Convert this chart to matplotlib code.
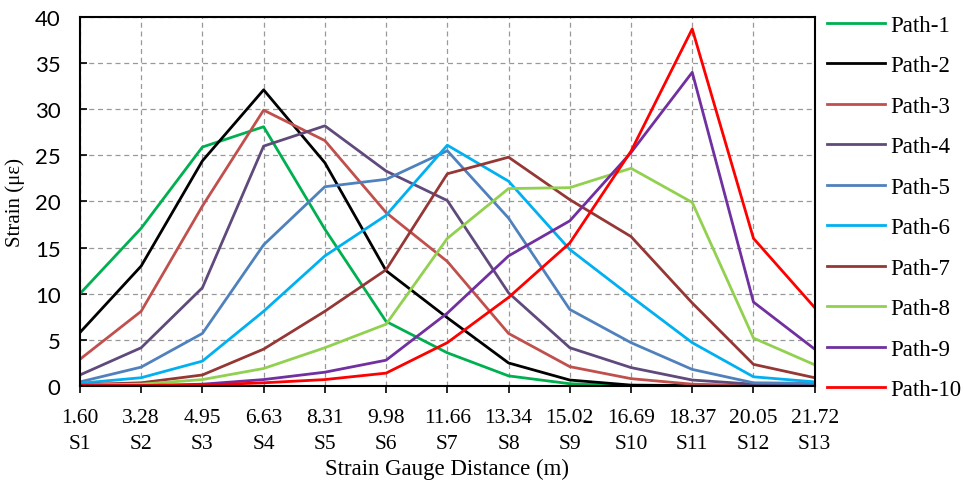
import matplotlib
matplotlib.use("Agg")
import matplotlib.pyplot as plt
import numpy as np

plt.rcParams["font.family"] = ["Liberation Serif", "DejaVu Serif"]

distances = ["1.60", "3.28", "4.95", "6.63", "8.31", "9.98", "11.66",
             "13.34", "15.02", "16.69", "18.37", "20.05", "21.72"]
gauges = ["S1", "S2", "S3", "S4", "S5", "S6", "S7",
          "S8", "S9", "S10", "S11", "S12", "S13"]

# strain per path at gauges S1..S13
path_1 = [10.0, 17.1, 25.9, 28.1, 17.0, 7.0, 3.6, 1.1, 0.25, 0.05, 0.0, 0.0, 0.0]
path_2 = [5.8, 13.0, 24.4, 32.1, 24.2, 12.5, 7.4, 2.5, 0.65, 0.1, 0.05, 0.0, 0.0]
path_3 = [2.9, 8.1, 19.5, 29.9, 26.6, 18.8, 13.5, 5.7, 2.1, 0.8, 0.2, 0.05, 0.05]
path_4 = [1.2, 4.15, 10.65, 26.0, 28.2, 23.3, 20.1, 10.1, 4.15, 2.0, 0.65, 0.2, 0.2]
path_5 = [0.45, 2.05, 5.7, 15.3, 21.6, 22.4, 25.5, 18.2, 8.3, 4.7, 1.8, 0.35, 0.3]
path_6 = [0.3, 0.9, 2.7, 8.1, 14.1, 18.5, 26.1, 22.2, 14.8, 9.7, 4.7, 1.0, 0.45]
path_7 = [0.15, 0.35, 1.2, 4.0, 8.1, 12.6, 23.0, 24.8, 20.2, 16.2, 9.0, 2.35, 0.9]
path_8 = [0.1, 0.2, 0.7, 1.9, 4.15, 6.7, 16.0, 21.4, 21.5, 23.6, 19.9, 5.2, 2.3]
path_9 = [0.05, 0.05, 0.2, 0.7, 1.5, 2.8, 7.9, 14.1, 17.9, 25.3, 34.0, 9.1, 4.0]
path_10 = [0.05, 0.05, 0.1, 0.35, 0.7, 1.4, 4.7, 9.6, 15.5, 25.45, 38.7, 16.0, 8.5]

series = [path_1, path_2, path_3, path_4, path_5,
          path_6, path_7, path_8, path_9, path_10]
labels = ["Path-%d" % (i + 1) for i in range(10)]
colors = ["#00B050", "#000000", "#C0504D", "#604A7B", "#4F81BD",
          "#00B0F0", "#953735", "#92D050", "#7030A0", "#FF0000"]

fig = plt.figure(figsize=(9.63, 4.85), dpi=100)
ax = fig.add_axes([0.083, 0.202, 0.763, 0.761])

x = np.arange(len(gauges))
for vals, lab, col in zip(series, labels, colors):
    ax.plot(x, vals, color=col, lw=2.0, label=lab)

ax.set_xlim(0, len(gauges) - 1)
ax.set_ylim(0, 40)
ax.set_yticks(np.arange(0, 41, 5))
ax.set_xticks(x)
ax.set_xticklabels([d + "\n" + g for d, g in zip(distances, gauges)],
                   linespacing=1.5, fontsize=15.5)
ax.tick_params(axis="x", direction="out", length=5, width=1.2, pad=11)
ax.tick_params(axis="y", direction="in", length=5, width=1.2, pad=14,
               labelsize=16)
for t in ax.get_yticklabels():
    t.set_family(["Lato", "DejaVu Sans"])
ax.grid(True, color="#999999", linestyle=(0, (4, 3)), lw=0.9)
ax.set_axisbelow(True)
for sp in ax.spines.values():
    sp.set_linewidth(1.5)
    sp.set_color("black")

ax.set_xlabel("Strain Gauge Distance (m)", fontsize=16.5, labelpad=3)
ax.set_ylabel("Strain (με)", fontsize=15, labelpad=7)

fig.legend(loc="upper left", bbox_to_anchor=(0.859, 0.968), frameon=False,
           fontsize=16.5, handlelength=2.5, handletextpad=0.27,
           labelspacing=0.85, borderaxespad=0, borderpad=0)

fig.savefig("out.png", dpi=100)
